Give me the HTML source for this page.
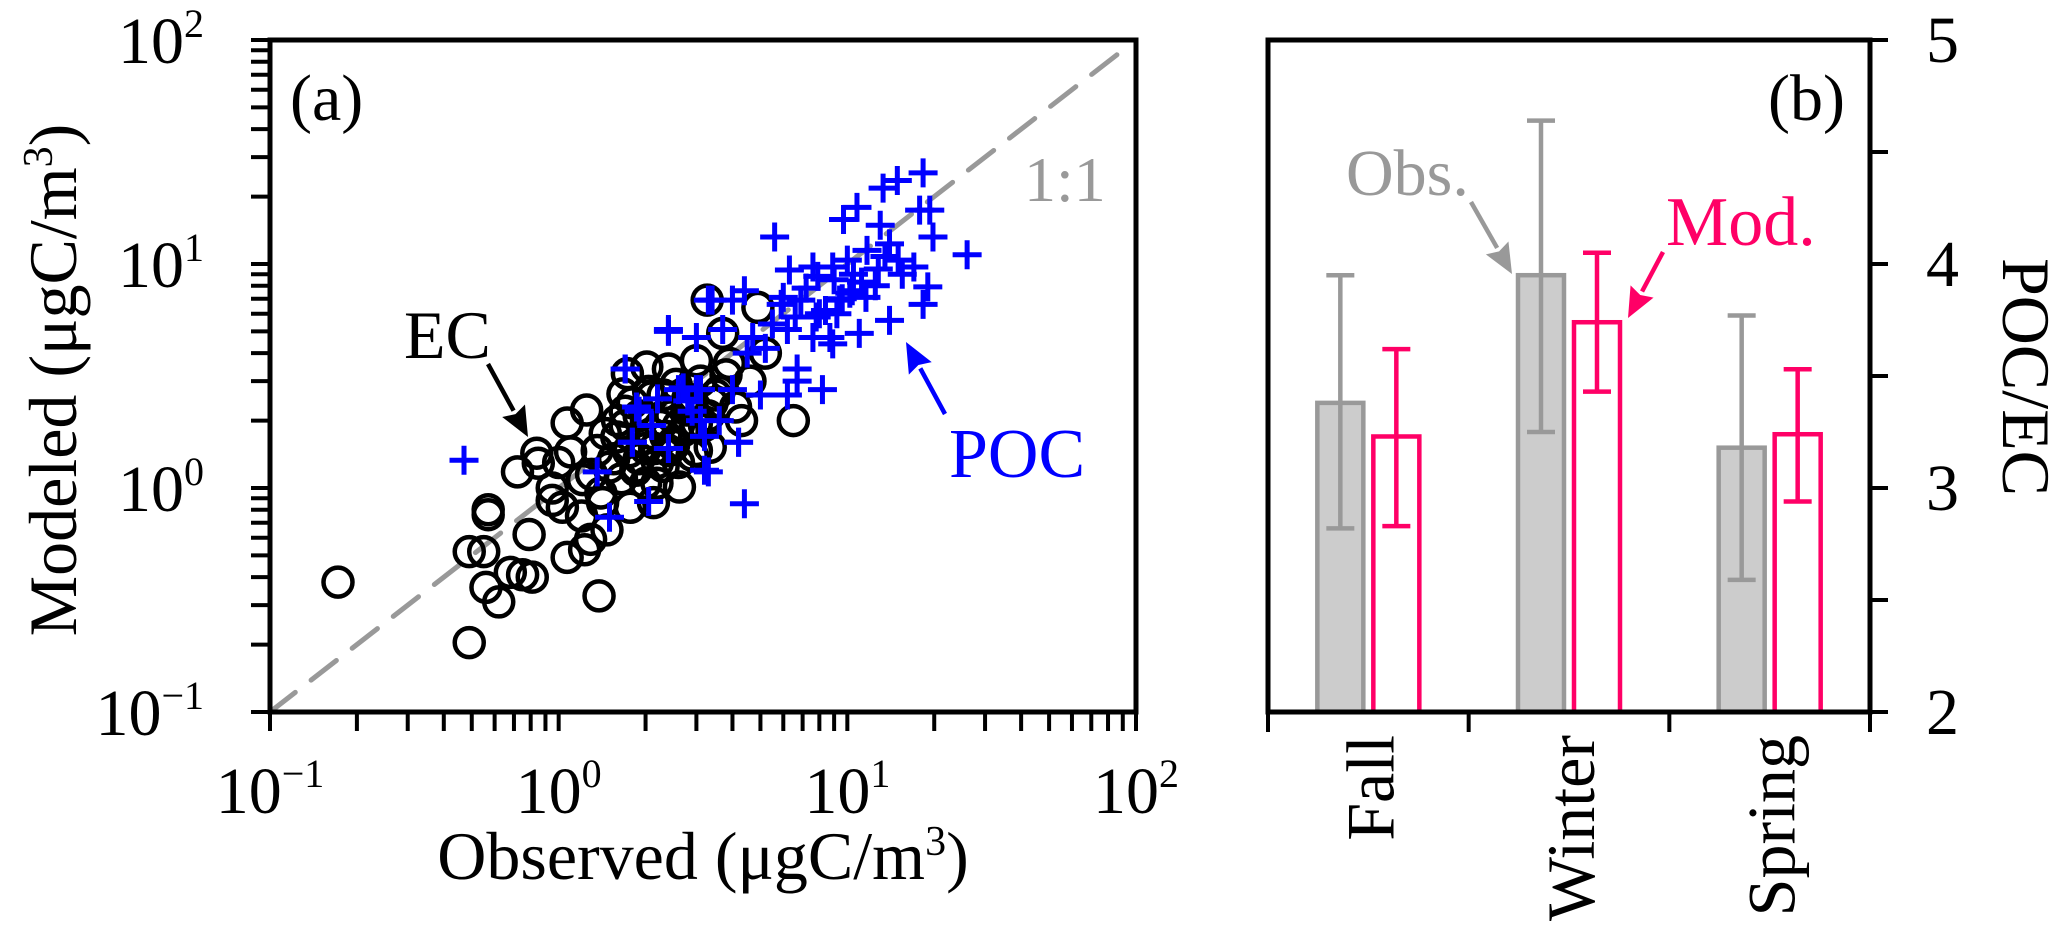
<!DOCTYPE html>
<html>
<head>
<meta charset="utf-8">
<style>
  html,body{margin:0;padding:0;background:#fff;}
  svg{display:block;font-family:"Liberation Serif","DejaVu Serif",serif;}
  svg text{font-family:"Liberation Serif","DejaVu Serif",serif;}
</style>
</head>
<body>
<svg id="fig" width="2067" height="937" viewBox="0 0 2067 937" font-family="Liberation Serif, DejaVu Serif, serif" xmlns="http://www.w3.org/2000/svg">
  <g id="panelA"></g>
  <g id="panelB"></g>
</svg>
<script>
// ---------- Panel (a) data ----------
const ecObs = [0.172,0.49,1.38,0.49,0.55,0.57,0.57,0.56,0.62,0.68,0.75,0.81,0.79,0.72,0.84,0.85,0.95,1.03,1.07,1.25,1.21,1.29,1.07,1.23,1.47,1.73,1.67,2.02,3.27,4.9,1.59,1.86,2.19,2.62,1.77,2.13,2.4,3.0,3.35,2.78,2.4,3.0,4.1,4.3,3.7,2.1,1.36,1.42,1.5,6.5,2.3,2.6,2.9,1.9,2.2,3.2,3.6,2.5,1.7,2.0,
  1.3,1.4,1.55,1.6,1.65,1.75,1.8,1.85,1.95,2.0,2.05,2.15,2.25,2.3,2.45,2.5,2.55,2.7,2.85,2.9,3.1,3.3,3.5,3.8,1.45,1.7,1.9,2.1,2.35,2.6,2.8,3.0,3.4,1.2,1.1,0.95,1.0,4.6,5.2,3.9];
const ecMod = [0.38,0.204,0.33,0.52,0.52,0.80,0.76,0.36,0.31,0.42,0.41,0.40,0.62,1.18,1.43,1.29,0.88,0.82,1.95,2.23,1.09,0.59,0.49,0.53,0.65,3.24,2.63,3.47,6.9,6.4,1.69,1.24,1.05,1.01,0.82,0.86,1.47,1.47,1.52,2.23,3.4,3.7,2.3,2.0,4.9,1.75,1.47,0.86,1.24,2.0,2.6,1.9,2.4,2.1,1.3,1.9,2.7,1.6,1.9,1.5,
  1.15,0.95,1.35,2.0,1.1,1.45,2.4,1.2,1.65,1.05,2.7,1.5,1.9,1.25,2.1,1.55,2.9,1.8,2.3,1.4,3.0,2.1,2.6,3.2,1.75,2.2,1.35,2.55,1.7,1.3,2.5,1.95,2.4,0.75,1.45,1.0,1.3,3.0,4.0,3.6];
const pocObs = [5.6,18.3,14.9,13.3,17.8,19.3,10.8,9.7,13.0,19.8,26,14,11.7,6.3,7.6,8.9,10,15,17,19,18.3,14,11,8.9,8.7,7.8,10.2,11.6,9.4,6.9,6.0,5.5,6.2,4.7,4.0,3.3,2.4,3.0,3.7,4.5,6.7,8.2,6.2,5.0,4.0,3.1,2.6,1.86,1.7,4.2,3.2,1.8,2.4,6.7,7.6,0.47,4.4,1.5,2.05,1.36,3.3,4.2,1.8,2.4,1.9,2.4,1.7,2.7,3.0,3.1,3.2,4.4,3.4,9.0,10.5,12.5,8.0,
  7.2,8.4,9.6,11.2,12.8,6.6,7.9,9.2,10.4,5.2,5.9,13.5,15.5,2.2,2.9,3.6,2.1,2.8];
const pocMod = [13.2,25.5,23.6,21.8,17.4,17.4,17.9,15.8,14.9,13.2,11,12.3,11.5,9.4,9.7,9.7,10.4,10.4,9.7,7.9,6.6,5.6,4.9,4.4,4.7,5.8,7.4,7.1,6.9,6.9,7.1,5.4,5.1,4.7,6.9,6.9,5.1,4.7,5.1,4.0,3.4,2.75,2.6,2.6,2.75,2.75,2.75,2.3,3.4,1.6,1.2,1.6,1.5,3.0,4.7,1.33,0.85,0.74,0.87,1.18,1.18,1.6,1.6,1.5,2.2,5.0,3.4,2.8,2.75,2.0,1.7,7.6,6.9,8.5,9.0,8.0,6.0,
  7.8,6.2,7.0,8.3,9.5,5.8,8.8,6.0,7.6,4.2,6.6,10.8,9.0,2.5,2.2,2.0,1.9,2.45];
const logTicks = [-1,0,1,2];
const logTickLabels = ["\u22121","0","1","2"];

// ---------- Panel (b) data ----------
const seasons = ["Fall","Winter","Spring"];
const obsRatio = [3.38,3.95,3.18];
const obsLo = [2.82,3.25,2.59];
const obsHi = [3.95,4.64,3.77];
const modRatio = [3.23,3.74,3.24];
const modLo = [2.83,3.43,2.94];
const modHi = [3.62,4.05,3.53];
const ratioTicks = [2,3,4,5];

const NS = "http://www.w3.org/2000/svg";
function mk(tag, attrs, parent){
  const e = document.createElementNS(NS, tag);
  for (const k in attrs) e.setAttribute(k, attrs[k]);
  parent.appendChild(e);
  return e;
}
const A = document.getElementById('panelA');
const B = document.getElementById('panelB');
const FF = 'Liberation Serif, DejaVu Serif, serif';

const aL=270, aR=1136, aT=40, aB=712;
function xA(v){ return aL + (Math.log10(v)+1)*(aR-aL)/3; }
function yA(v){ return aB - (Math.log10(v)+1)*(aB-aT)/3; }

let l = mk('line',{x1:xA(0.1),y1:yA(0.1),x2:xA(95),y2:yA(95),stroke:'#999',
  'stroke-width':5,'stroke-dasharray':'32 20','stroke-linecap':'round'},A);



const ecG = mk('g',{},A);


for (let i=0;i<ecObs.length;i++){
  const c = mk('circle',{cx:xA(ecObs[i]),cy:yA(ecMod[i]),r:14.5,fill:'none',stroke:'#000','stroke-width':4.5},ecG);
  
  
}
const pocG = mk('g',{},A);


for (let i=0;i<pocObs.length;i++){
  const x=xA(pocObs[i]), y=yA(pocMod[i]), h=14.5;
  const p = mk('path',{d:`M${x-h},${y}H${x+h}M${x},${y-h}V${y+h}`,stroke:'#0000ff','stroke-width':5,fill:'none'},pocG);
  
  
}

let fr = mk('rect',{x:aL,y:aT,width:aR-aL,height:aB-aT,fill:'none',stroke:'#000','stroke-width':5},A);



const tickG = mk('g',{stroke:'#000','stroke-width':4},A);


for (let d=-1; d<=2; d++){
  for (let m=1; m<=9; m++){
    const v = m*Math.pow(10,d);
    if (v>100.0001) break;
    mk('line',{x1:xA(v),y1:aB,x2:xA(v),y2:aB+19},tickG);
    mk('line',{x1:aL,y1:yA(v),x2:aL-19,y2:yA(v)},tickG);
  }
}
for (let i=0;i<logTicks.length;i++){
  const v = Math.pow(10,logTicks[i]);
  const tx = mk('text',{x:xA(v),y:813,'text-anchor':'middle','font-size':66,'font-family':FF},A);
  
  
  tx.innerHTML = `10<tspan dy="-26" font-size="40">${logTickLabels[i]}</tspan>`;
  const ty = mk('text',{x:204,y:yA(v)+23,'text-anchor':'end','font-size':66,'font-family':FF},A);
  
  
  ty.innerHTML = `10<tspan dy="-26" font-size="40">${logTickLabels[i]}</tspan>`;
}
let xt = mk('text',{x:703,y:879,'text-anchor':'middle','font-size':68,'font-family':FF},A);


xt.innerHTML = 'Observed (\u03bcgC/m<tspan dy="-24" font-size="42">3</tspan><tspan dy="24">)</tspan>';
let yt = mk('text',{x:0,y:0,'text-anchor':'middle','font-size':68,'font-family':FF,transform:'translate(76,380) rotate(-90)'},A);


yt.innerHTML = 'Modeled (\u03bcgC/m<tspan dy="-24" font-size="42">3</tspan><tspan dy="24">)</tspan>';

function txt(parent,x,y,s,size,color,anchor){
  const t = mk('text',{x:x,y:y,'font-size':size,fill:color,'text-anchor':anchor||'start','font-family':FF},parent);
  t.textContent = s;
  return t;
}
function arrow(parent,x1,y1,x2,y2,color,w){
  const g = mk('g',{},parent);
  const ang = Math.atan2(y2-y1,x2-x1), L=30, W=13;
  const bx = x2 - L*Math.cos(ang), by = y2 - L*Math.sin(ang);
  mk('line',{x1:x1,y1:y1,x2:bx,y2:by,stroke:color,'stroke-width':w},g);
  const px = -Math.sin(ang), py = Math.cos(ang);
  mk('polygon',{points:`${x2},${y2} ${bx+px*W},${by+py*W} ${bx+W*0.3*Math.cos(ang)},${by+W*0.3*Math.sin(ang)} ${bx-px*W},${by-py*W}`,fill:color},g);
  return g;
}
let t;
t = txt(A,290,120,'(a)',66,'#000');  
t = txt(A,404,358,'EC',68,'#000');  
t = arrow(A,488,364,528,437,'#000',4.5);  
t = txt(A,949,477,'POC',70,'#0000ff');  
t = arrow(A,945,414,906,342,'#0000ff',4.5);  
t = txt(A,1024,201,'1:1',64,'#999');  

// ---------- Panel (b) ----------
const bL=1268, bR=1870, bT=40, bB=712;
const catW = (bR-bL)/seasons.length;
function xB(i){ return bL + catW*(i+0.5); }
function yB(v){ return bB - (v-2)*(bB-bT)/3; }
const barW = 46, off = 28, capW = 28;

for (let i=0;i<seasons.length;i++){
  const cx = xB(i);
  let r = mk('rect',{x:cx-off-barW/2,y:yB(obsRatio[i]),width:barW,height:bB-yB(obsRatio[i]),fill:'#cccccc',stroke:'#999999','stroke-width':4.5},B);
  
  
  let e = mk('path',{d:`M${cx-off},${yB(obsLo[i])}V${yB(obsHi[i])}M${cx-off-capW/2},${yB(obsLo[i])}H${cx-off+capW/2}M${cx-off-capW/2},${yB(obsHi[i])}H${cx-off+capW/2}`,stroke:'#999999','stroke-width':4.5,fill:'none'},B);
  
  
  r = mk('rect',{x:cx+off-barW/2,y:yB(modRatio[i]),width:barW,height:bB-yB(modRatio[i]),fill:'#ffffff',stroke:'#ff0066','stroke-width':4.5},B);
  
  
  e = mk('path',{d:`M${cx+off},${yB(modLo[i])}V${yB(modHi[i])}M${cx+off-capW/2},${yB(modLo[i])}H${cx+off+capW/2}M${cx+off-capW/2},${yB(modHi[i])}H${cx+off+capW/2}`,stroke:'#ff0066','stroke-width':4.5,fill:'none'},B);
  
  
  const cl = mk('text',{x:0,y:0,'text-anchor':'end','font-size':68,'font-family':FF,transform:`translate(${cx+25},735) rotate(-90)`},B);
  
  
  cl.textContent = seasons[i];
}
fr = mk('rect',{x:bL,y:bT,width:bR-bL,height:bB-bT,fill:'none',stroke:'#000','stroke-width':5},B);


const tb = mk('g',{stroke:'#000','stroke-width':4},B);


for (let i=0;i<=seasons.length;i++){
  mk('line',{x1:bL+catW*i,y1:bB,x2:bL+catW*i,y2:bB+20},tb);
}
for (let v=2; v<=5.001; v+=0.5){
  mk('line',{x1:bR,y1:yB(v),x2:bR+18,y2:yB(v)},tb);
}
for (let i=0;i<ratioTicks.length;i++){
  const rt = mk('text',{x:1926,y:yB(ratioTicks[i])+22,'font-size':66,'font-family':FF},B);
  
  
  rt.textContent = ratioTicks[i];
}
let rtitle = mk('text',{x:0,y:0,'text-anchor':'middle','font-size':68,'font-family':FF,transform:'translate(2003,377) rotate(90)'},B);


rtitle.textContent = 'POC/EC';

t = txt(B,1768,120,'(b)',66,'#000');  
t = txt(B,1346,195,'Obs.',66,'#999');  
t = arrow(B,1471,202,1512,274,'#999',4.5);  
t = txt(B,1666,245,'Mod.',70,'#ff0066');  
t = arrow(B,1663,252,1628,318,'#ff0066',4.5);  
</script>
</body>
</html>
